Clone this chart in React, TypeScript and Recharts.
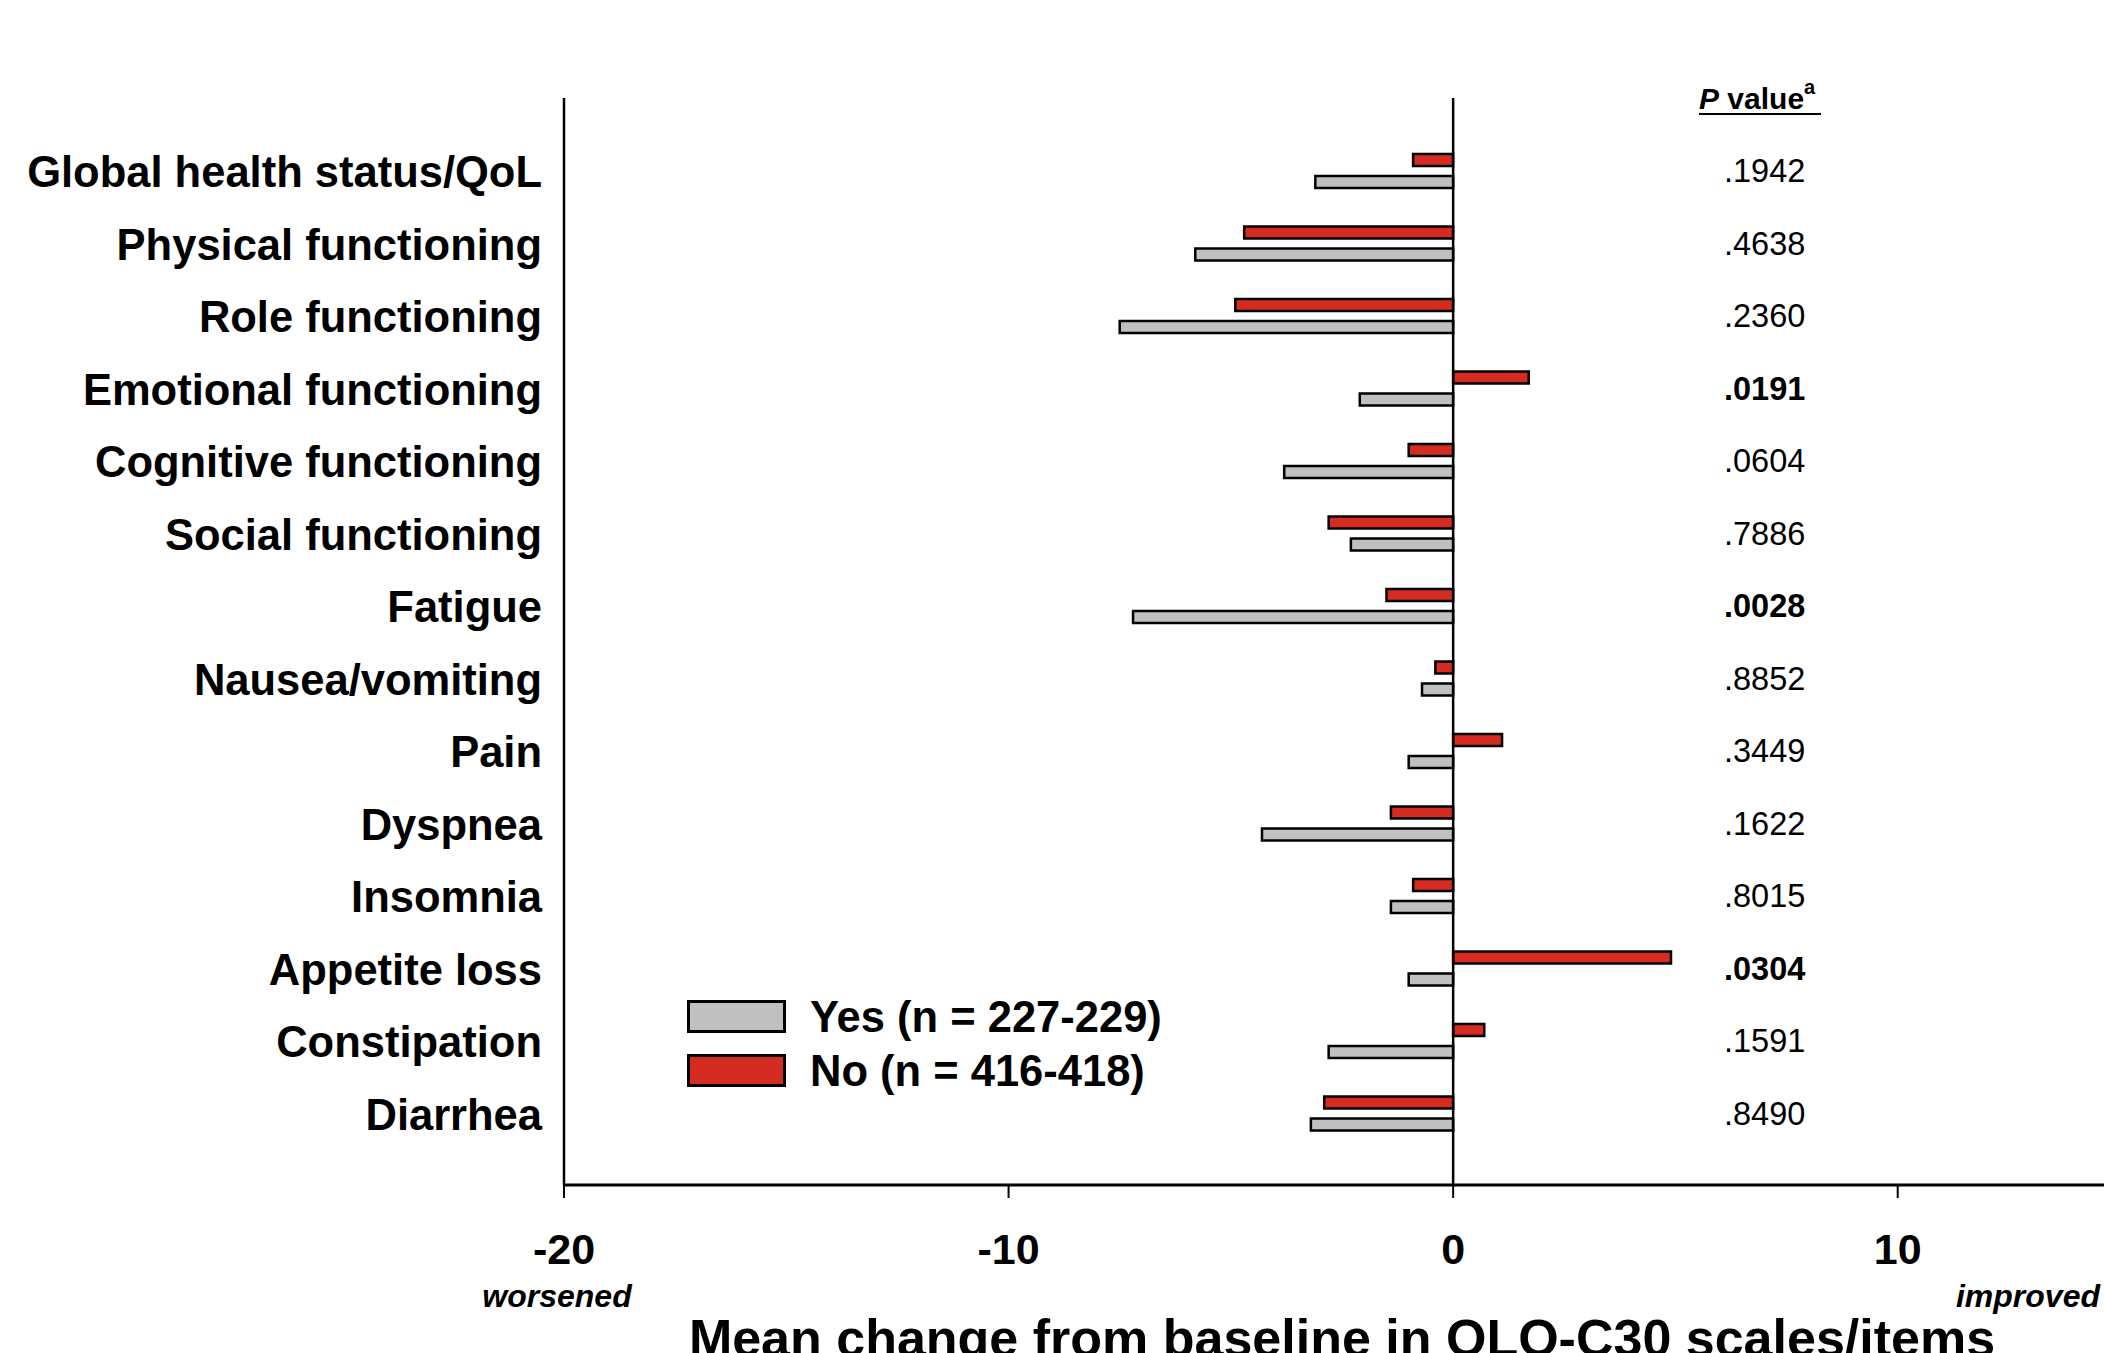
import React from 'react';
import {
  BarChart,
  Bar,
  XAxis,
  YAxis,
  ReferenceLine,
  Customized,
} from 'recharts';

const CATEGORIES = [
  'Global health status/QoL',
  'Physical functioning',
  'Role functioning',
  'Emotional functioning',
  'Cognitive functioning',
  'Social functioning',
  'Fatigue',
  'Nausea/vomiting',
  'Pain',
  'Dyspnea',
  'Insomnia',
  'Appetite loss',
  'Constipation',
  'Diarrhea',
];

// mean change, "No" group (red)
const NO_VALUES = [-0.9, -4.7, -4.9, 1.7, -1.0, -2.8, -1.5, -0.4, 1.1, -1.4, -0.9, 4.9, 0.7, -2.9];
// mean change, "Yes" group (gray)
const YES_VALUES = [-3.1, -5.8, -7.5, -2.1, -3.8, -2.3, -7.2, -0.7, -1.0, -4.3, -1.4, -1.0, -2.8, -3.2];

const P_VALUES = [
  '.1942', '.4638', '.2360', '.0191', '.0604', '.7886', '.0028',
  '.8852', '.3449', '.1622', '.8015', '.0304', '.1591', '.8490',
];
const P_SIGNIFICANT = [false, false, false, true, false, false, true, false, false, false, false, true, false, false];

const X_TICKS = [-20, -10, 0, 10];

const YES_LABEL = 'Yes (n = 227-229)';
const NO_LABEL = 'No (n = 416-418)';

const FONT = '"Liberation Sans", Arial, Helvetica, sans-serif';
const RED = '#d62b20';
const GRAY = '#c0c0c0';
const P_COL_X = 1724;

const data = CATEGORIES.map((name, i) => ({
  name,
  no: NO_VALUES[i],
  yes: YES_VALUES[i],
}));

function CategoryTick(props: any) {
  const { x, y, payload } = props;
  const i = CATEGORIES.indexOf(payload.value);
  return (
    <g>
      <text
        x={x - 22}
        y={y + 1}
        textAnchor="end"
        dominantBaseline="central"
        fontFamily={FONT}
        fontSize={43.5}
        fontWeight="bold"
        fill="#000"
      >
        {payload.value}
      </text>
      <text
        x={P_COL_X}
        y={y}
        textAnchor="start"
        dominantBaseline="central"
        fontFamily={FONT}
        fontSize={32.5}
        fontWeight={P_SIGNIFICANT[i] ? 'bold' : 'normal'}
        fill="#000"
      >
        {P_VALUES[i]}
      </text>
    </g>
  );
}

function Annotations() {
  return (
    <g fontFamily={FONT} fill="#000">
      {/* P value header */}
      <text x={1699} y={98} dominantBaseline="central" fontSize={30} fontWeight="bold">
        <tspan fontStyle="italic">P</tspan> value
        <tspan fontSize={20} dy={-11}>a</tspan>
      </text>
      <line x1={1699} x2={1821} y1={114} y2={114} stroke="#000" strokeWidth={2} />

      {/* legend */}
      <rect x={688.5} y={1001.5} width={96} height={30} fill={GRAY} stroke="#000" strokeWidth={3} />
      <text x={810} y={1017} dominantBaseline="central" fontSize={43.5} fontWeight="bold">
        {YES_LABEL}
      </text>
      <rect x={688.5} y={1055.5} width={96} height={30} fill={RED} stroke="#000" strokeWidth={3} />
      <text x={810} y={1071} dominantBaseline="central" fontSize={43.5} fontWeight="bold">
        {NO_LABEL}
      </text>

      {/* axis annotations */}
      <text x={557} y={1296} textAnchor="middle" dominantBaseline="central" fontSize={32} fontWeight="bold" fontStyle="italic">
        worsened
      </text>
      <text x={2100} y={1296} textAnchor="end" dominantBaseline="central" fontSize={32} fontWeight="bold" fontStyle="italic">
        improved
      </text>
      <text x={1342} y={1356} textAnchor="middle" fontSize={52} fontWeight="bold">
        Mean change from baseline in QLQ-C30 scales/items
      </text>
    </g>
  );
}

export default function App() {
  return (
    <div
      style={{
        position: 'absolute',
        left: 0,
        top: 0,
        width: 2104,
        height: 1353,
        overflow: 'hidden',
        background: '#fff',
      }}
    >
      <BarChart
        width={2130}
        height={1353}
        data={data}
        layout="vertical"
        margin={{ top: 98, right: 10, bottom: 0, left: 0 }}
        barSize={12}
        barGap={10}
      >
        <XAxis
          type="number"
          domain={[-20, 15]}
          ticks={X_TICKS}
          allowDataOverflow
          height={168}
          tickSize={13}
          tickMargin={35}
          axisLine={{ stroke: '#000', strokeWidth: 3 }}
          tickLine={{ stroke: '#000', strokeWidth: 2 }}
          tick={{ fontFamily: FONT, fontSize: 43, fontWeight: 'bold', fill: '#000' }}
        />
        <YAxis
          type="category"
          dataKey="name"
          width={564}
          padding={{ top: 37, bottom: 35 }}
          tickLine={false}
          tickSize={0}
          tickMargin={0}
          axisLine={{ stroke: '#000', strokeWidth: 2.5 }}
          tick={<CategoryTick />}
          interval={0}
        />
        <Bar dataKey="no" fill={RED} stroke="#000" strokeWidth={2.5} isAnimationActive={false} />
        <Bar dataKey="yes" fill={GRAY} stroke="#000" strokeWidth={2.5} isAnimationActive={false} />
        <ReferenceLine x={0} stroke="#000" strokeWidth={2.5} />
        <Customized component={Annotations} />
      </BarChart>
    </div>
  );
}
